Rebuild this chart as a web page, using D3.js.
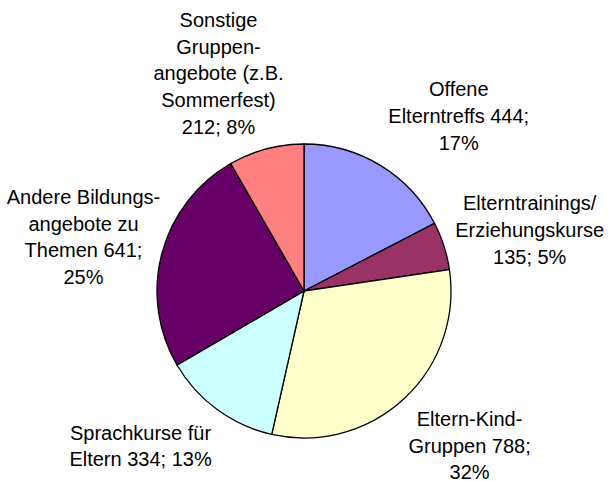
<!DOCTYPE html>
<meta charset="utf-8">
<style>
body { margin: 0; background: #fff; }
.slice { stroke: #000; stroke-width: 1.3px; }
.label text { font: 20px "Liberation Sans", Arial, sans-serif; fill: #000; }
</style>
<svg width="608" height="481"></svg>
<script src="https://cdn.jsdelivr.net/npm/d3@7"></script>
<script>

var categories = [
  "Offene Elterntreffs",
  "Elterntrainings/ Erziehungskurse",
  "Eltern-Kind-Gruppen",
  "Sprachkurse für Eltern",
  "Andere Bildungsangebote zu Themen",
  "Sonstige Gruppenangebote (z.B. Sommerfest)"
];
var values = [444, 135, 788, 334, 641, 212];
var percents = ["17%", "5%", "32%", "13%", "25%", "8%"];

// label lines, wrapped as in the original
var labelLines = [
  ["Offene", "Elterntreffs 444;", "17%"],
  ["Elterntrainings/", "Erziehungskurse", "135; 5%"],
  ["Eltern-Kind-", "Gruppen 788;", "32%"],
  ["Sprachkurse für", "Eltern 334; 13%"],
  ["Andere Bildungs-", "angebote zu", "Themen 641;", "25%"],
  ["Sonstige", "Gruppen-", "angebote (z.B.", "Sommerfest)", "212; 8%"]
];

var colors = ["#9999ff", "#993366", "#ffffcc", "#ccffff", "#660066", "#ff8080"];

var svg = d3.select("svg"),
    cx = 304, cy = 291, r = 147,
    lineH = 26.6;

// nudges from the outer centroid to where Excel put each label
var nudge = [[55, -4], [43, 5], [35, 21], [-50, 7], [-35, 2.5], [-36, -25]];

var pie = d3.pie().sort(null).value(function(d) { return d; });
var arcs = pie(values);

var arc = d3.arc().innerRadius(0).outerRadius(r);
var outer = d3.arc().innerRadius(r + 45).outerRadius(r + 45);

var g = svg.append("g").attr("transform", "translate(" + cx + "," + cy + ")");

g.selectAll(".slice")
  .data(arcs)
  .enter().append("path")
    .attr("class", "slice")
    .attr("fill", function(d, i) { return colors[i]; })
    .attr("d", arc);

var label = g.selectAll(".label")
  .data(arcs)
  .enter().append("g")
    .attr("class", "label")
    .attr("transform", function(d, i) {
      var c = outer.centroid(d);
      return "translate(" + (c[0] + nudge[i][0]) + "," + (c[1] + nudge[i][1]) + ")";
    });

label.each(function(d, i) {
  var lines = labelLines[i],
      top = -(lines.length - 1) * lineH / 2;
  d3.select(this).selectAll("text")
    .data(lines)
    .enter().append("text")
      .attr("text-anchor", "middle")
      .attr("y", function(s, j) { return top + j * lineH; })
      .text(function(s) { return s; });
});

</script>
